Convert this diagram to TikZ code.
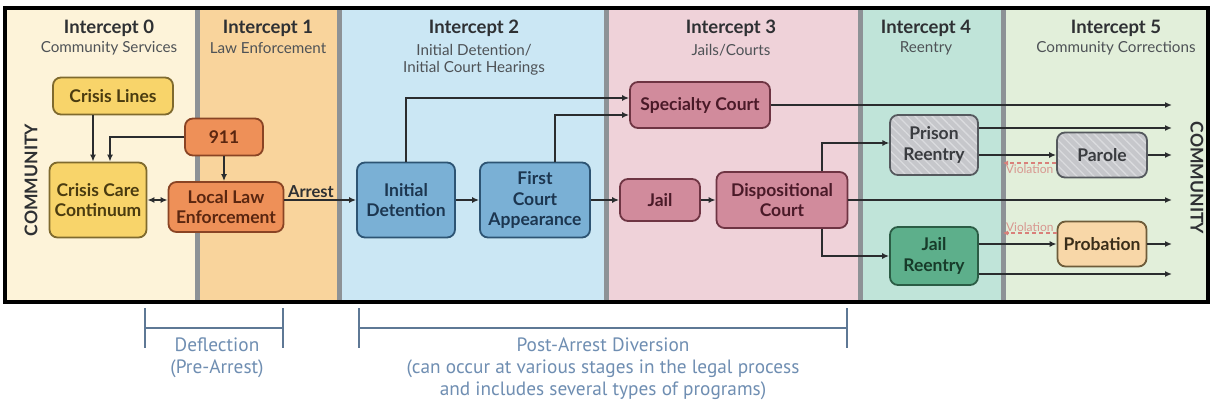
\documentclass[tikz,border=0pt]{standalone}
\usepackage{fontspec}
\setmainfont{Lato}
\newfontfamily\ptsans{PT Sans}
\usetikzlibrary{arrows.meta,calc,patterns.meta}
\definecolor{bg0}{HTML}{FDF3D9}
\definecolor{bg1}{HTML}{F9D49C}
\definecolor{bg2}{HTML}{CBE7F4}
\definecolor{bg3}{HTML}{EFD2D9}
\definecolor{bg4}{HTML}{C0E4D9}
\definecolor{bg5}{HTML}{E2EFDA}
\definecolor{sepC}{HTML}{8D9296}
\definecolor{yelF}{HTML}{F8D46A}\definecolor{yelD}{HTML}{7F6A2E}\definecolor{yelT}{HTML}{4A3B10}
\definecolor{oraF}{HTML}{EE9058}\definecolor{oraD}{HTML}{8A4424}\definecolor{oraT}{HTML}{5A2610}
\definecolor{bluF}{HTML}{7AB0D5}\definecolor{bluD}{HTML}{2D5473}\definecolor{bluT}{HTML}{1C3650}
\definecolor{pnkF}{HTML}{D18B9C}\definecolor{pnkD}{HTML}{6E3443}\definecolor{pnkT}{HTML}{4A1A28}
\definecolor{gryF}{HTML}{C6C7CB}\definecolor{gryD}{HTML}{55595E}\definecolor{gryS}{HTML}{DADBDE}\definecolor{gryT}{HTML}{3A3C40}
\definecolor{grnF}{HTML}{5DAF8B}\definecolor{grnD}{HTML}{2B5C45}\definecolor{grnT}{HTML}{173B2A}
\definecolor{pchF}{HTML}{F8D7A8}\definecolor{pchD}{HTML}{6E5C3A}\definecolor{pchT}{HTML}{3A2E1A}
\definecolor{lineC}{HTML}{2A2C2E}
\definecolor{violC}{HTML}{D9807A}
\definecolor{violT}{HTML}{D8968F}
\definecolor{brkC}{HTML}{5E7895}
\definecolor{brkT}{HTML}{6F8EB2}
\definecolor{headT}{HTML}{2E3033}
\definecolor{subT}{HTML}{4E5256}
\begin{document}
\begin{tikzpicture}[x=1pt,y=-1pt,
  box/.style={draw, line width=1.8pt, rounded corners=8pt, inner sep=0pt, align=center,
    font=\fontsize{17.5}{20.5}\selectfont\bfseries},
  yel/.style={box, fill=yelF, draw=yelD, text=yelT},
  ora/.style={box, fill=oraF, draw=oraD, text=oraT},
  blu/.style={box, fill=bluF, draw=bluD, text=bluT},
  pnk/.style={box, fill=pnkF, draw=pnkD, text=pnkT},
  hatch/.style={box, draw=gryD, text=gryT, preaction={fill=gryF},
    pattern={Lines[angle=-45,distance=6pt,line width=1.3pt]}, pattern color=gryS},
  grn/.style={box, fill=grnF, draw=grnD, text=grnT},
  pch/.style={box, fill=pchF, draw=pchD, text=pchT},
  head/.style={font=\fontsize{18.5}{20}\selectfont\bfseries, text=headT, inner sep=0pt},
  sub/.style={font=\fontsize{15.2}{18}\selectfont, text=subT, inner sep=0pt},
  conn/.style={line width=1.4pt, draw=lineC, -{Latex[length=7pt,width=6pt]}},
  conn2/.style={line width=1.4pt, draw=lineC, {Latex[length=7pt,width=6pt]}-{Latex[length=7pt,width=6pt]}},
  viol/.style={line width=1.3pt, draw=violC, dash pattern=on 4pt off 3pt, -{Latex[length=5pt,width=5pt]}},
  vlbl/.style={font=\fontsize{12}{14}\selectfont, text=violT, inner sep=1pt},
  lbl/.style={font=\fontsize{16.5}{18}\selectfont\bfseries, text=headT, inner sep=1pt},
  comm/.style={font=\fontsize{17.5}{18}\selectfont\bfseries, text=headT, inner sep=0pt},
  brk/.style={line width=1.6pt, draw=brkC},
  btxt/.style={font=\ptsans\fontsize{19.3}{22}\selectfont, text=brkT, inner sep=0pt}
]
\useasboundingbox (0,0) rectangle (1212,406);
\fill[white] (0,0) rectangle (1212,406);
% columns
\fill[bg0] (5,8) rectangle (197,302);
\fill[bg1] (197,8) rectangle (339,302);
\fill[bg2] (339,8) rectangle (606,302);
\fill[bg3] (606,8) rectangle (860,302);
\fill[bg4] (860,8) rectangle (1003,302);
\fill[bg5] (1003,8) rectangle (1208,302);
\foreach \sx in {197,339,606,860,1003}{\fill[sepC] (\sx-2.5,8) rectangle (\sx+2.5,302);}
\draw[line width=4.5pt, black] (5,8) rectangle (1208,302);
% headings
\node[head] (h0) at (109,28) {Intercept 0};
\node[sub] (s0) at (109,48) {Community Services};
\node[head] (h1) at (268,28) {Intercept 1};
\node[sub] (s1) at (268,48) {Law Enforcement};
\node[head] (h2) at (474,28) {Intercept 2};
\node[sub] (s2a) at (474,50) {Initial Detention/};
\node[sub] (s2b) at (474,68) {Initial Court Hearings};
\node[head] (h3) at (731,28) {Intercept 3};
\node[sub] (s3) at (731,50) {Jails/Courts};
\node[head] (h4) at (926,28) {Intercept 4};
\node[sub] (s4) at (926,48) {Reentry};
\node[head] (h5) at (1116,28) {Intercept 5};
\node[sub] (s5) at (1116,48) {Community Corrections};
% community labels
\node[comm, rotate=90] (cmL) at (31,180) {COMMUNITY};
\node[comm, rotate=-90] (cmR) at (1197,178) {COMMUNITY};
% boxes
\node[yel, minimum width=120, minimum height=37] (cl) at (113,96) {Crisis Lines};
\node[ora, minimum width=78, minimum height=37] (n911) at (224,137) {911};
\node[yel, minimum width=97, minimum height=75] (ccc) at (98,200) {Crisis Care\\Continuum};
\node[ora, minimum width=115, minimum height=50] (lle) at (226,207) {Local Law\\Enforcement};
\node[blu, minimum width=98, minimum height=75] (idt) at (406,200) {Initial\\Detention};
\node[blu, minimum width=110, minimum height=75] (fca) at (535,200) {First\\Court\\Appearance};
\node[pnk, minimum width=80, minimum height=42] (jail) at (660,200) {Jail};
\node[pnk, minimum width=131, minimum height=56] (dc) at (782,200) {Dispositional\\Court};
\node[pnk, minimum width=140, minimum height=46] (sc) at (700,105) {Specialty Court};
\node[hatch, minimum width=88, minimum height=60] (pr) at (934,145) {Prison\\Reentry};
\node[hatch, minimum width=90, minimum height=45] (par) at (1102,155) {Parole};
\node[grn, minimum width=88, minimum height=58] (jr) at (934,256) {Jail\\Reentry};
\node[pch, minimum width=89, minimum height=45] (prob) at (1102,244) {Probation};
% helper coordinates
\coordinate (oR) at (1172,0);
\coordinate (vX) at (1003,0);
\coordinate (a1) at ($(cl.south)+(-20,0)$);
\coordinate (a2) at ($(ccc.north)+(12,0)$);
\coordinate (b1) at ([xshift=20pt]fca.north);
\coordinate (b2) at ([yshift=7pt]sc.west);
\coordinate (b3) at ([yshift=-10pt]sc.west);
\coordinate (c1) at ([xshift=40pt]dc.north);
\coordinate (c2) at ([xshift=40pt]dc.south);
\coordinate (c3) at ([yshift=2pt]pr.west);
\coordinate (p1) at ([yshift=17pt]pr.east);
\coordinate (p2) at ([yshift=-18pt]jr.east);
\coordinate (v1) at ([yshift=-8pt]par.west);
\coordinate (v2) at ([yshift=11pt]prob.west);
% connectors
\draw[conn] (a1) -- (a1 |- ccc.north);
\draw[conn] (n911.west) -| (a2);
\draw[conn] (n911.south) -- (n911.south |- lle.north);
\draw[conn2] (ccc.east) -- (ccc.east -| lle.west);
\draw[conn] (lle.east |- idt.west) -- node[pos=0.37, above=1pt, lbl] (arr) {Arrest} (idt.west);
\draw[conn] (idt.north) |- (b2);
\draw[conn] (b1) |- (b3);
\draw[conn] (idt.east) -- (fca.west);
\draw[conn] (fca.east) -- (jail.west);
\draw[conn] (jail.east) -- (dc.west);
\draw[conn] (sc.east) -- (sc.east -| oR);
\draw[conn] (dc.east) -- (dc.east -| oR);
\draw[conn] (c1) |- (c3);
\draw[conn] (c2) |- (jr.west);
\draw[conn] (p1) -- (p1 -| oR);
\draw[conn] (pr.east |- par.west) -- (par.west);
\draw[conn] (par.east) -- (par.east -| oR);
\draw[conn] (jr.east |- prob.west) -- (prob.west);
\draw[conn] (prob.east) -- (prob.east -| oR);
\draw[conn] (p2) -- (p2 -| oR);
\draw[viol] (v1) -- node[below=0pt, vlbl] (vl1) {Violation} (v1 -| vX);
\draw[viol] (v2) -- node[above=0pt, vlbl] (vl2) {Violation} (v2 -| vX);
% bottom brackets
\draw[brk] (145,308) -- (145,348);
\draw[brk] (283,308) -- (283,348);
\draw[brk] (145,328) -- (283,328);
\draw[brk] (359,308) -- (359,348);
\draw[brk] (847,308) -- (847,348);
\draw[brk] (359,328) -- (847,328);
\node[btxt] (defl) at (217,345) {Deflection};
\node[btxt] (prea) at (217,369) {(Pre-Arrest)};
\node[btxt] (pad) at (603,345) {Post-Arrest Diversion};
\node[btxt] (pad2) at (603,369) {(can occur at various stages in the legal process};
\node[btxt] (pad3) at (603,391) {and includes several types of programs)};
\end{tikzpicture}
\end{document}
